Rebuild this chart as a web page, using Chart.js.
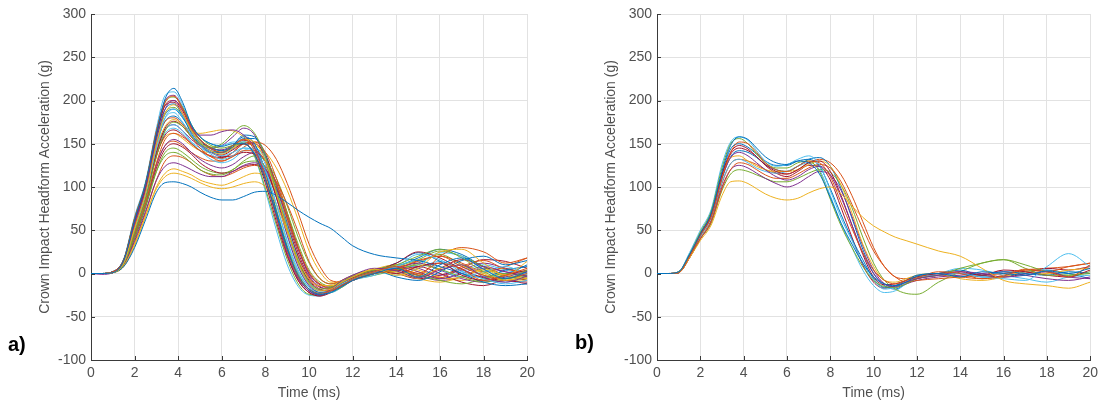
<!DOCTYPE html>
<html>
<head>
<meta charset="utf-8">
<script src="https://cdn.jsdelivr.net/npm/chart.js@4.4.1/dist/chart.umd.min.js"></script>
<style>
  html, body { margin: 0; padding: 0; background: #fff; }
  body { width: 1103px; height: 407px; position: relative; overflow: hidden; font-family: "Liberation Sans", Arial, sans-serif; }
  .panel { position: absolute; top: 0; }
  .panel canvas { display: block; }
  .tag { position: absolute; font-weight: bold; font-size: 20px; line-height: 20px; color: #000; }
</style>
</head>
<body>
<div class="panel" style="left:0px"><canvas id="chartA" width="540" height="407"></canvas></div>
<div class="panel" style="left:566px"><canvas id="chartB" width="537" height="407"></canvas></div>
<div class="tag" style="left:8px;top:334px">a)</div>
<div class="tag" style="left:575px;top:332px">b)</div>

<script>
// --- data (time in ms, acceleration in g) ---
const timeMs = [0,0.5,1,1.5,2,2.5,3,3.4,3.8,4.2,4.6,5,5.5,6,6.5,7,7.5,8,8.5,9,9.5,10,10.5,11,11.5,12,13,14,15,16,17,18,19,20];

const xTickValues = [0,2,4,6,8,10,12,14,16,18,20];
const yTickValues = [-100,-50,0,50,100,150,200,250,300];

// MATLAB default line order
const lineColors = ["#0072BD","#D95319","#EDB120","#7E2F8E","#77AC30","#4DBEEE","#A2142F"];

// panel a) impacts
const runsA = [
  [0,0,1,15,62, 104,162,202,214,198, 172,158,150,147,150, 150,138,108,68,28, -2,-18,-24,-22,-15, -8,0,6,-4,10, 18,5,-6,2],
  [0,0,2,16,64, 104,165,198,205,190, 168,155,145,140,148, 155,142,108,66,26, -4,-18,-23,-20,-14, -6,2,8,0,12, 5,-8,-2,6],
  [0,0,1,12,52, 92,150,185,195,185, 165,152,142,138,145, 155,152,130,92,50, 12,-12,-20,-18,-10, -4,5,-2,6,25, 28,12,-2,14],
  [0,-1,1,14,58, 98,155,190,200,190, 170,160,160,164,166, 160,145,110,65,24, -6,-20,-25,-18,-8, -2,6,3,-5,4, 10,-4,-10,-3],
  [0,0,1,11,48, 86,135,165,175,170, 158,150,146,150,162, 171,162,135,95,52, 14,-10,-18,-16,-10, -4,4,10,20,28, 18,2,-6,4],
  [0,0,1,12,50, 90,145,180,190,182, 165,150,140,136,140, 145,140,118,80,38, 4,-16,-23,-20,-12, -6,2,8,22,16, 2,-6,-12,-8],
  [0,0,2,15,60, 100,160,194,198,185, 165,150,140,137,143, 150,138,104,60,20, -8,-22,-26,-20,-12, -5,3,0,8,12, -2,-8,-2,4],
  [0,0,1,8,30, 62,94,105,106,104, 100,94,88,85,85, 89,94,95,90,82, 73,65,58,52,42, 32,22,18,15,8, 0,-10,-14,-12],
  [0,0,1,13,55, 96,150,176,180,172, 158,145,135,130,135, 142,142,130,104,66, 30,2,-12,-18,-14, -8,0,5,15,20, 8,-2,-6,0],
  [0,0,1,9,34, 66,98,112,116,114, 110,105,100,98,100, 104,106,100,80,48, 16,-6,-14,-14,-8, -2,4,2,-4,6, 10,0,-8,-4],
  [0,0,1,10,38, 72,108,124,128,125, 120,115,112,112,118, 125,128,120,98,64, 28,0,-13,-16,-10, -4,3,8,2,-6, 0,8,2,-3],
  [0,0,1,11,42, 78,118,136,140,136, 128,120,115,114,120, 128,130,124,102,70, 34,4,-10,-15,-12, -6,0,4,10,5, -4,-10,-6,-2],
  [0,0,2,14,56, 95,152,180,186,175, 160,148,138,132,136, 145,142,120,80,36, 2,-16,-23,-22,-15, -8,-2,8,15,5, -4,2,8,-2],
  [0,0,1,12,50, 88,140,168,176,170, 158,148,140,135,136, 140,138,122,88,50, 14,-8,-19,-20,-14, -8,2,12,25,18, 5,-5,-8,-10],
  [0,0,2,16,62, 102,162,190,196,182, 162,148,140,140,148, 158,150,118,72,30, -4,-20,-25,-20,-10, -2,4,-4,-8,2, 15,20,10,15],
  [0,0,1,11,46, 82,128,155,162,158, 150,142,135,133,140, 150,152,140,110,70, 30,0,-13,-16,-12, -5,2,6,-2,20, 30,25,12,18],
  [0,0,1,13,52, 90,145,170,178,172, 165,162,164,166,165, 158,145,112,72,30, -2,-18,-24,-20,-12, -4,5,10,2,-6, -4,5,-2,-6],
  [0,0,1,11,44, 80,126,148,155,150, 140,132,125,122,126, 135,140,130,105,68, 30,-2,-15,-18,-14, -8,0,6,12,4, -6,-10,-4,2],
  [0,0,2,16,64, 104,164,198,204,192, 172,158,148,145,148, 150,136,98,56,16, -12,-24,-25,-18,-10, -4,4,2,-2,-8, -12,-6,0,-4],
  [0,0,2,14,54, 92,145,166,172,165, 152,142,132,128,132, 142,145,132,96,55, 16,-10,-20,-20,-14, -6,2,6,10,24, 20,5,-5,0],
  [0,0,1,10,42, 78,122,144,150,146, 138,128,120,116,118, 124,126,118,92,56, 20,-6,-18,-20,-15, -8,0,4,8,0, -10,-14,-8,-12],
  [0,0,2,15,58, 98,156,184,190,180, 164,152,145,142,148, 160,158,135,94,50, 12,-12,-22,-20,-12, -4,4,12,24,14, 0,-4,4,8],
  [0,0,1,9,36, 70,108,130,136,134, 128,120,114,112,116, 122,125,120,106,80, 48,14,-6,-12,-8, -3,2,5,0,-5, 8,15,5,2],
  [0,0,1,8,32, 66,100,116,121,118, 114,108,104,102,106, 112,116,112,94,62, 28,0,-12,-14,-10, -4,3,0,-6,-10, -4,4,-6,-8],
  [0,0,2,16,63, 103,164,200,206,192, 170,155,145,143,148, 155,146,115,70,28, -4,-20,-24,-20,-14, -6,2,10,6,-2, 4,12,6,0],
  [0,0,1,10,40, 76,118,140,145,140, 132,124,118,116,120, 130,136,130,110,78, 42,12,-6,-12,-10, -5,2,8,16,26, 20,8,-4,-6],
  [0,0,2,17,66, 106,168,206,210,195, 172,158,150,148,152, 152,135,95,50,10, -15,-25,-26,-20,-12, -6,2,-2,6,14, 4,-6,-10,-4],
  [0,0,1,12,48, 86,136,160,166,160, 150,142,136,134,140, 150,150,136,102,62, 24,-4,-16,-18,-12, -6,0,4,-4,6, 16,8,-2,-8],
  [0,0,2,14,55, 94,150,176,182,174, 160,150,142,140,146, 156,156,138,100,58, 18,-10,-20,-20,-14, -6,2,8,18,28, 22,8,0,10],
  [0,0,1,11,44, 80,126,148,153,148, 140,134,130,130,136, 146,152,148,132,104, 70,34,8,-8,-10, -6,0,6,14,20, 12,2,8,18],
  [0,0,1,12,48, 86,136,158,162,156, 148,142,140,140,145, 150,148,140,122,96, 62,26,2,-10,-10, -5,3,10,4,-4, -8,0,6,-2],
  [0,0,1,12,50, 88,140,166,172,165, 155,148,145,148,158, 168,160,130,88,44, 8,-14,-22,-20,-14, -6,2,6,-2,-8, -4,6,2,-4],
  [0,0,2,15,58, 98,158,186,192,182, 166,154,146,142,146, 152,146,118,74,32, 0,-18,-24,-22,-16, -8,-2,4,12,22, 10,-2,-8,-6],
  [0,0,1,12,50, 88,138,162,168,162, 152,145,140,139,144, 152,148,126,88,44, 8,-14,-22,-22,-16, -8,0,4,-2,-6, 2,10,4,-2],
  [0,0,2,16,62, 100,160,195,200,188, 168,154,144,140,146, 154,146,112,66,22, -8,-22,-26,-22,-14, -6,4,0,-6,-2, 6,16,14,6]
];

// panel b) impacts
const runsB = [
  [0,0,2,22,46, 70,118,148,158,155, 145,135,128,126,130, 128,115,88,58,34, 12,-4,-12,-14,-10, -3,0,-4,2,0, -2,3,0,6],
  [0,0,1,20,44, 66,110,140,152,150, 140,128,120,118,124, 130,128,112,82,52, 24,4,-8,-12,-8, -5,2,0,-6,-3, 5,2,-4,10],
  [0,0,1,18,38, 56,90,106,107,104, 98,92,87,85,87, 93,98,100,92,78, 65,55,48,42,38, 34,26,20,6,-8, -12,-14,-17,-10],
  [0,0,1,20,44, 66,110,134,140,136, 128,120,112,108,112, 120,124,114,88,56, 24,0,-12,-15,-10, -6,-2,2,0,-4, -2,2,-4,-6],
  [0,0,2,22,48, 72,122,150,156,150, 138,128,122,122,128, 130,118,86,55,30, 8,-8,-15,-16,-12, -6,-2,6,12,16, 6,-2,-2,0],
  [0,0,2,24,50, 74,126,152,158,154, 142,130,124,126,132, 136,126,96,64,38, 12,-8,-18,-16,-10, -5,-2,0,-4,-6, -8,8,23,8],
  [0,0,1,20,46, 68,114,140,148,144, 135,126,118,115,120, 128,130,118,90,56, 22,-4,-13,-12,-8, -4,0,2,-2,4, 2,-2,-4,4],
  [0,0,1,21,46, 70,116,144,150,146, 138,130,125,125,130, 132,124,98,68,40, 16,-6,-16,-14,-8, -2,0,4,-2,2, 0,-2,2,0],
  [0,0,1,18,40, 60,98,120,128,126, 120,114,110,110,115, 122,126,122,106,80, 52,26,8,-4,-10, -8,-6,-4,-2,0, 4,2,8,12],
  [0,0,1,20,44, 66,112,134,136,130, 124,120,118,118,120, 126,130,124,102,70, 34,8,-8,-10,-6, -2,0,-6,-8,-4, 2,0,4,6],
  [0,0,1,18,40, 60,100,120,125,122, 116,110,104,100,104, 112,118,114,96,66, 32,4,-12,-16,-12, -8,-4,-2,0,2, -2,-6,-8,-4],
  [0,0,1,18,40, 58,96,115,120,118, 114,110,106,106,110, 116,120,117,102,76, 42,12,-8,-18,-23, -24,-10,2,12,16, 10,2,-2,2],
  [0,0,1,19,42, 64,106,127,132,128, 122,118,116,118,124, 128,120,90,58,30, 4,-14,-22,-20,-12, -4,0,6,4,-2, -6,-10,-4,-2],
  [0,0,2,22,46, 68,114,138,145,142, 135,125,116,112,118, 125,124,108,76,42, 10,-10,-17,-14,-10, -6,-2,0,-2,-4, 0,6,4,8],
  [0,0,1,20,44, 66,110,135,142,140, 134,126,120,118,124, 132,134,124,98,64, 28,0,-14,-18,-12, -6,-2,0,-4,-4, 2,4,0,-6],
  [0,0,1,19,42, 62,104,127,132,130, 126,120,116,115,120, 128,132,128,114,90, 60,30,8,-4,-6, -4,-2,-4,-6,-2, 4,6,8,12]
];

const textColor = "#505050";
const gridColor = "#e2e2e2";
const axisColor = "#3a3a3a";
const fontFamily = '"Liberation Sans", Arial, sans-serif';

// small inward tick marks like MATLAB axes
const inwardTicks = {
  id: "inwardTicks",
  afterDraw(chart) {
    const { ctx, chartArea: area, scales } = chart;
    ctx.save();
    ctx.strokeStyle = axisColor;
    ctx.lineWidth = 1;
    ctx.beginPath();
    xTickValues.forEach((v) => {
      const px = Math.round(scales.x.getPixelForValue(v)) + 0.5;
      ctx.moveTo(px, area.bottom);
      ctx.lineTo(px, area.bottom - 4);
    });
    yTickValues.forEach((v) => {
      const py = Math.round(scales.y.getPixelForValue(v)) + 0.5;
      ctx.moveTo(area.left, py);
      ctx.lineTo(area.left + 4, py);
    });
    ctx.stroke();
    ctx.restore();
  },
};

function buildDatasets(runs) {
  return runs.map((vals, i) => ({
    data: vals.map((v, j) => ({ x: timeMs[j], y: v })),
    borderColor: lineColors[i % lineColors.length],
    borderWidth: 1,
    pointRadius: 0,
    fill: false,
    cubicInterpolationMode: "monotone",
  }));
}

function makeChart(canvasId, runs, rightPad) {
  const ctx = document.getElementById(canvasId).getContext("2d");
  return new Chart(ctx, {
    type: "line",
    data: { datasets: buildDatasets(runs) },
    options: {
      responsive: false,
      animation: false,
      layout: { padding: { top: 14, right: rightPad, bottom: 0, left: 0 } },
      plugins: { legend: { display: false }, tooltip: { enabled: false } },
      scales: {
        x: {
          type: "linear",
          min: 0,
          max: 20,
          afterBuildTicks: (s) => { s.ticks = xTickValues.map((v) => ({ value: v })); },
          afterFit: (s) => { s.height = 47; },
          ticks: { color: textColor, padding: 5, font: { family: fontFamily, size: 14 } },
          grid: { color: gridColor, drawTicks: false },
          border: { color: axisColor, width: 1 },
          title: {
            display: true,
            text: "Time (ms)",
            color: textColor,
            font: { family: fontFamily, size: 14 },
            padding: { top: 0, bottom: 5 },
          },
        },
        y: {
          type: "linear",
          min: -100,
          max: 300,
          afterBuildTicks: (s) => { s.ticks = yTickValues.map((v) => ({ value: v })); },
          afterFit: (s) => { s.width = 91; },
          ticks: { color: textColor, padding: 5, font: { family: fontFamily, size: 14 } },
          grid: { color: gridColor, drawTicks: false },
          border: { color: axisColor, width: 1 },
          title: {
            display: true,
            text: "Crown Impact Headform Acceleration (g)",
            color: textColor,
            font: { family: fontFamily, size: 14 },
            padding: { top: 37, bottom: 0 },
          },
        },
      },
    },
    plugins: [inwardTicks],
  });
}

makeChart("chartA", runsA, 11);
makeChart("chartB", runsB, 9);
</script>
</body>
</html>
